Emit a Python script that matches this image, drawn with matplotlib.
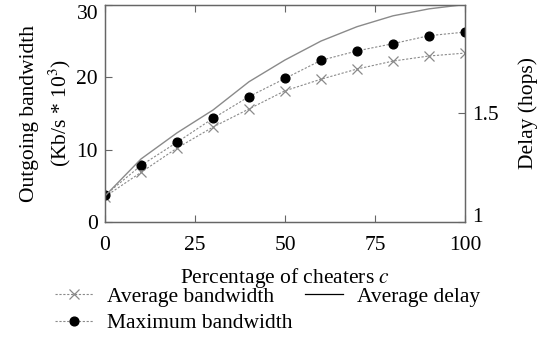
import matplotlib
matplotlib.use('Agg')
import matplotlib.pyplot as plt
from matplotlib.lines import Line2D

plt.rcParams['font.family'] = ['Liberation Serif', 'DejaVu Serif']
plt.rcParams['mathtext.fontset'] = 'stix'

# data
cheaters = [0, 10, 20, 30, 40, 50, 60, 70, 80, 90, 100]
avg_bw = [3.5, 6.85, 10.2, 13.1, 15.6, 18.1, 19.7, 21.1, 22.2, 22.9, 23.3]
max_bw = [3.7, 7.8, 11.0, 14.3, 17.3, 19.8, 22.3, 23.6, 24.6, 25.7, 26.2]
avg_delay = [1.12, 1.29, 1.41, 1.515, 1.645, 1.745, 1.832, 1.898, 1.948, 1.98, 2.0]

x_ticks = [0, 25, 50, 75, 100]
y_ticks = [0, 10, 20, 30]
delay_ticks = [1, 1.5]

fig = plt.figure(figsize=(5.51, 3.39), dpi=100)
ax = fig.add_axes([0.1906, 0.345, 0.6533, 0.6417])
ax2 = ax.twinx()

gray = '#8a8a8a'
fs = 15.5

ax.plot(cheaters, avg_bw, linestyle=(0, (2, 1.5)), color=gray, lw=0.8,
        marker='x', ms=6.5, mew=0.9, mec=gray)
ax.plot(cheaters, max_bw, linestyle=(0, (2, 1.5)), color=gray, lw=0.8,
        marker='o', ms=6.3, mfc='black', mec='black')
ax2.plot(cheaters, avg_delay, color=gray, lw=1.0)

ax.set_xlim(0, 100)
ax.set_ylim(0, 30)
ax2.set_ylim(1, 2)
ax.set_xticks(x_ticks)
ax.set_yticks(y_ticks)
ax2.set_yticks(delay_ticks)
ax2.set_yticklabels(['1', '1.5'])

for a in (ax, ax2):
    for s in a.spines.values():
        s.set_color('#666666')
        s.set_linewidth(0.9)
ax.tick_params(axis='x', direction='in', top=True, labelsize=fs, length=5,
               color='#666666', pad=10)
ax.tick_params(axis='y', direction='in', labelsize=fs, length=5,
               color='#666666', pad=5)
ax2.tick_params(axis='y', direction='in', labelsize=fs, length=5,
                color='#666666', pad=5)

# edge labels nudged inward, as in the reference
fig.canvas.draw()
ax.get_yticklabels()[-1].set_va('top')
ax2.get_yticklabels()[0].set_va('baseline')

ax.set_xlabel('Percentage of cheaters $\\mathit{c}$', fontsize=fs, labelpad=8)
ax.set_ylabel('Outgoing bandwidth\n(Kb/s * 10$^3$)', fontsize=fs,
              linespacing=1.4, labelpad=2.5)
ax2.set_ylabel('Delay (hops)', fontsize=fs, labelpad=14)

handles = [
    Line2D([], [], linestyle=(0, (2, 1.5)), color=gray, lw=0.8, marker='x',
           ms=6.5, mew=0.9, mec=gray),
    Line2D([], [], linestyle=(0, (2, 1.5)), color=gray, lw=0.8, marker='o',
           ms=6.3, mfc='black', mec='black'),
    Line2D([], [], color='black', lw=0.9),
]
labels = ['Average bandwidth', 'Maximum bandwidth', 'Average delay']
fig.legend(handles, labels, ncol=2, frameon=False, fontsize=fs,
           loc='upper left', bbox_to_anchor=(0.099, 0.155), numpoints=1,
           handlelength=1.77, handletextpad=0.65, columnspacing=0.6,
           labelspacing=0.3, borderpad=0, borderaxespad=0)

fig.savefig('out.png', dpi=100)
